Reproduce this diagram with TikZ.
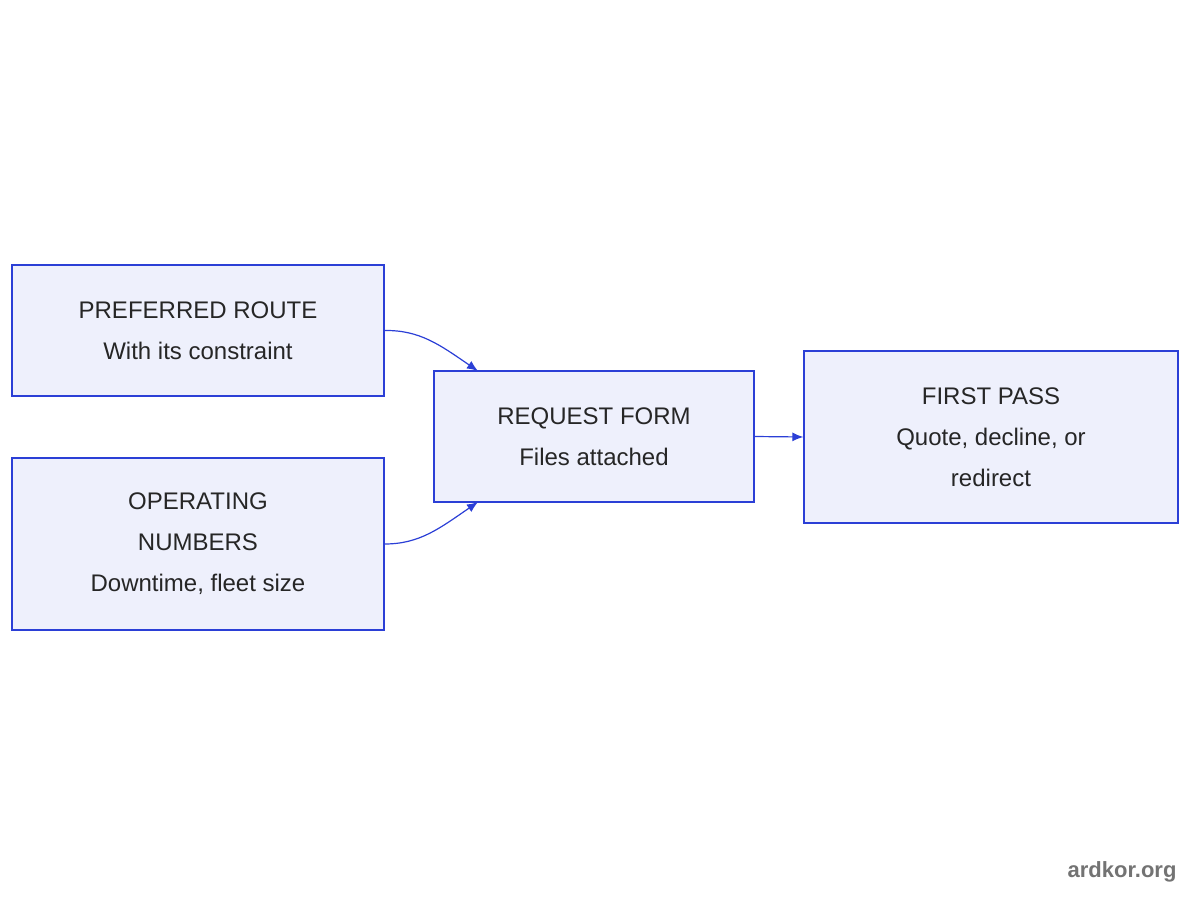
\documentclass[tikz,border=0pt]{standalone}
\usepackage{fontspec}
\setmainfont{Liberation Sans}
\usetikzlibrary{arrows.meta}
\definecolor{bfill}{HTML}{EEF0FC}
\definecolor{bline}{HTML}{2B3FD6}
\begin{document}
\begin{tikzpicture}[x=1pt,y=-1pt,
  box/.style={draw=bline,fill=bfill,line width=1.2pt,align=center,font=\fontsize{24}{41}\selectfont,text=black!85,inner sep=0pt},
  conn/.style={draw=bline,line width=1.2pt,-{Latex[length=11pt,width=9pt]}}]
\useasboundingbox (0,0) rectangle (1200,900);
\node[box,minimum width=372pt,minimum height=131pt] (a) at (198,330.5) {PREFERRED ROUTE\\With its constraint};
\node[box,minimum width=372pt,minimum height=172pt] (b) at (198,544) {OPERATING\\NUMBERS\\Downtime, fleet size};
\node[box,minimum width=320pt,minimum height=131pt] (c) at (594,436.5) {REQUEST FORM\\Files attached};
\node[box,minimum width=374pt,minimum height=172pt] (d) at (991,437) {FIRST PASS\\Quote, decline, or\\redirect};
\coordinate (ct) at (478,371);
\coordinate (cb) at (478,502);
\draw[conn] (a.east) .. controls (420,330) and (440,345) .. (ct);
\draw[conn] (b.east) .. controls (420,544) and (440,528) .. (cb);
\draw[conn] (c.east) -- (d.west);
\node[font=\bfseries\fontsize{22}{26}\selectfont,text=black!55,anchor=east] (w) at (1180,872) {ardkor.org};
\end{tikzpicture}
\end{document}
